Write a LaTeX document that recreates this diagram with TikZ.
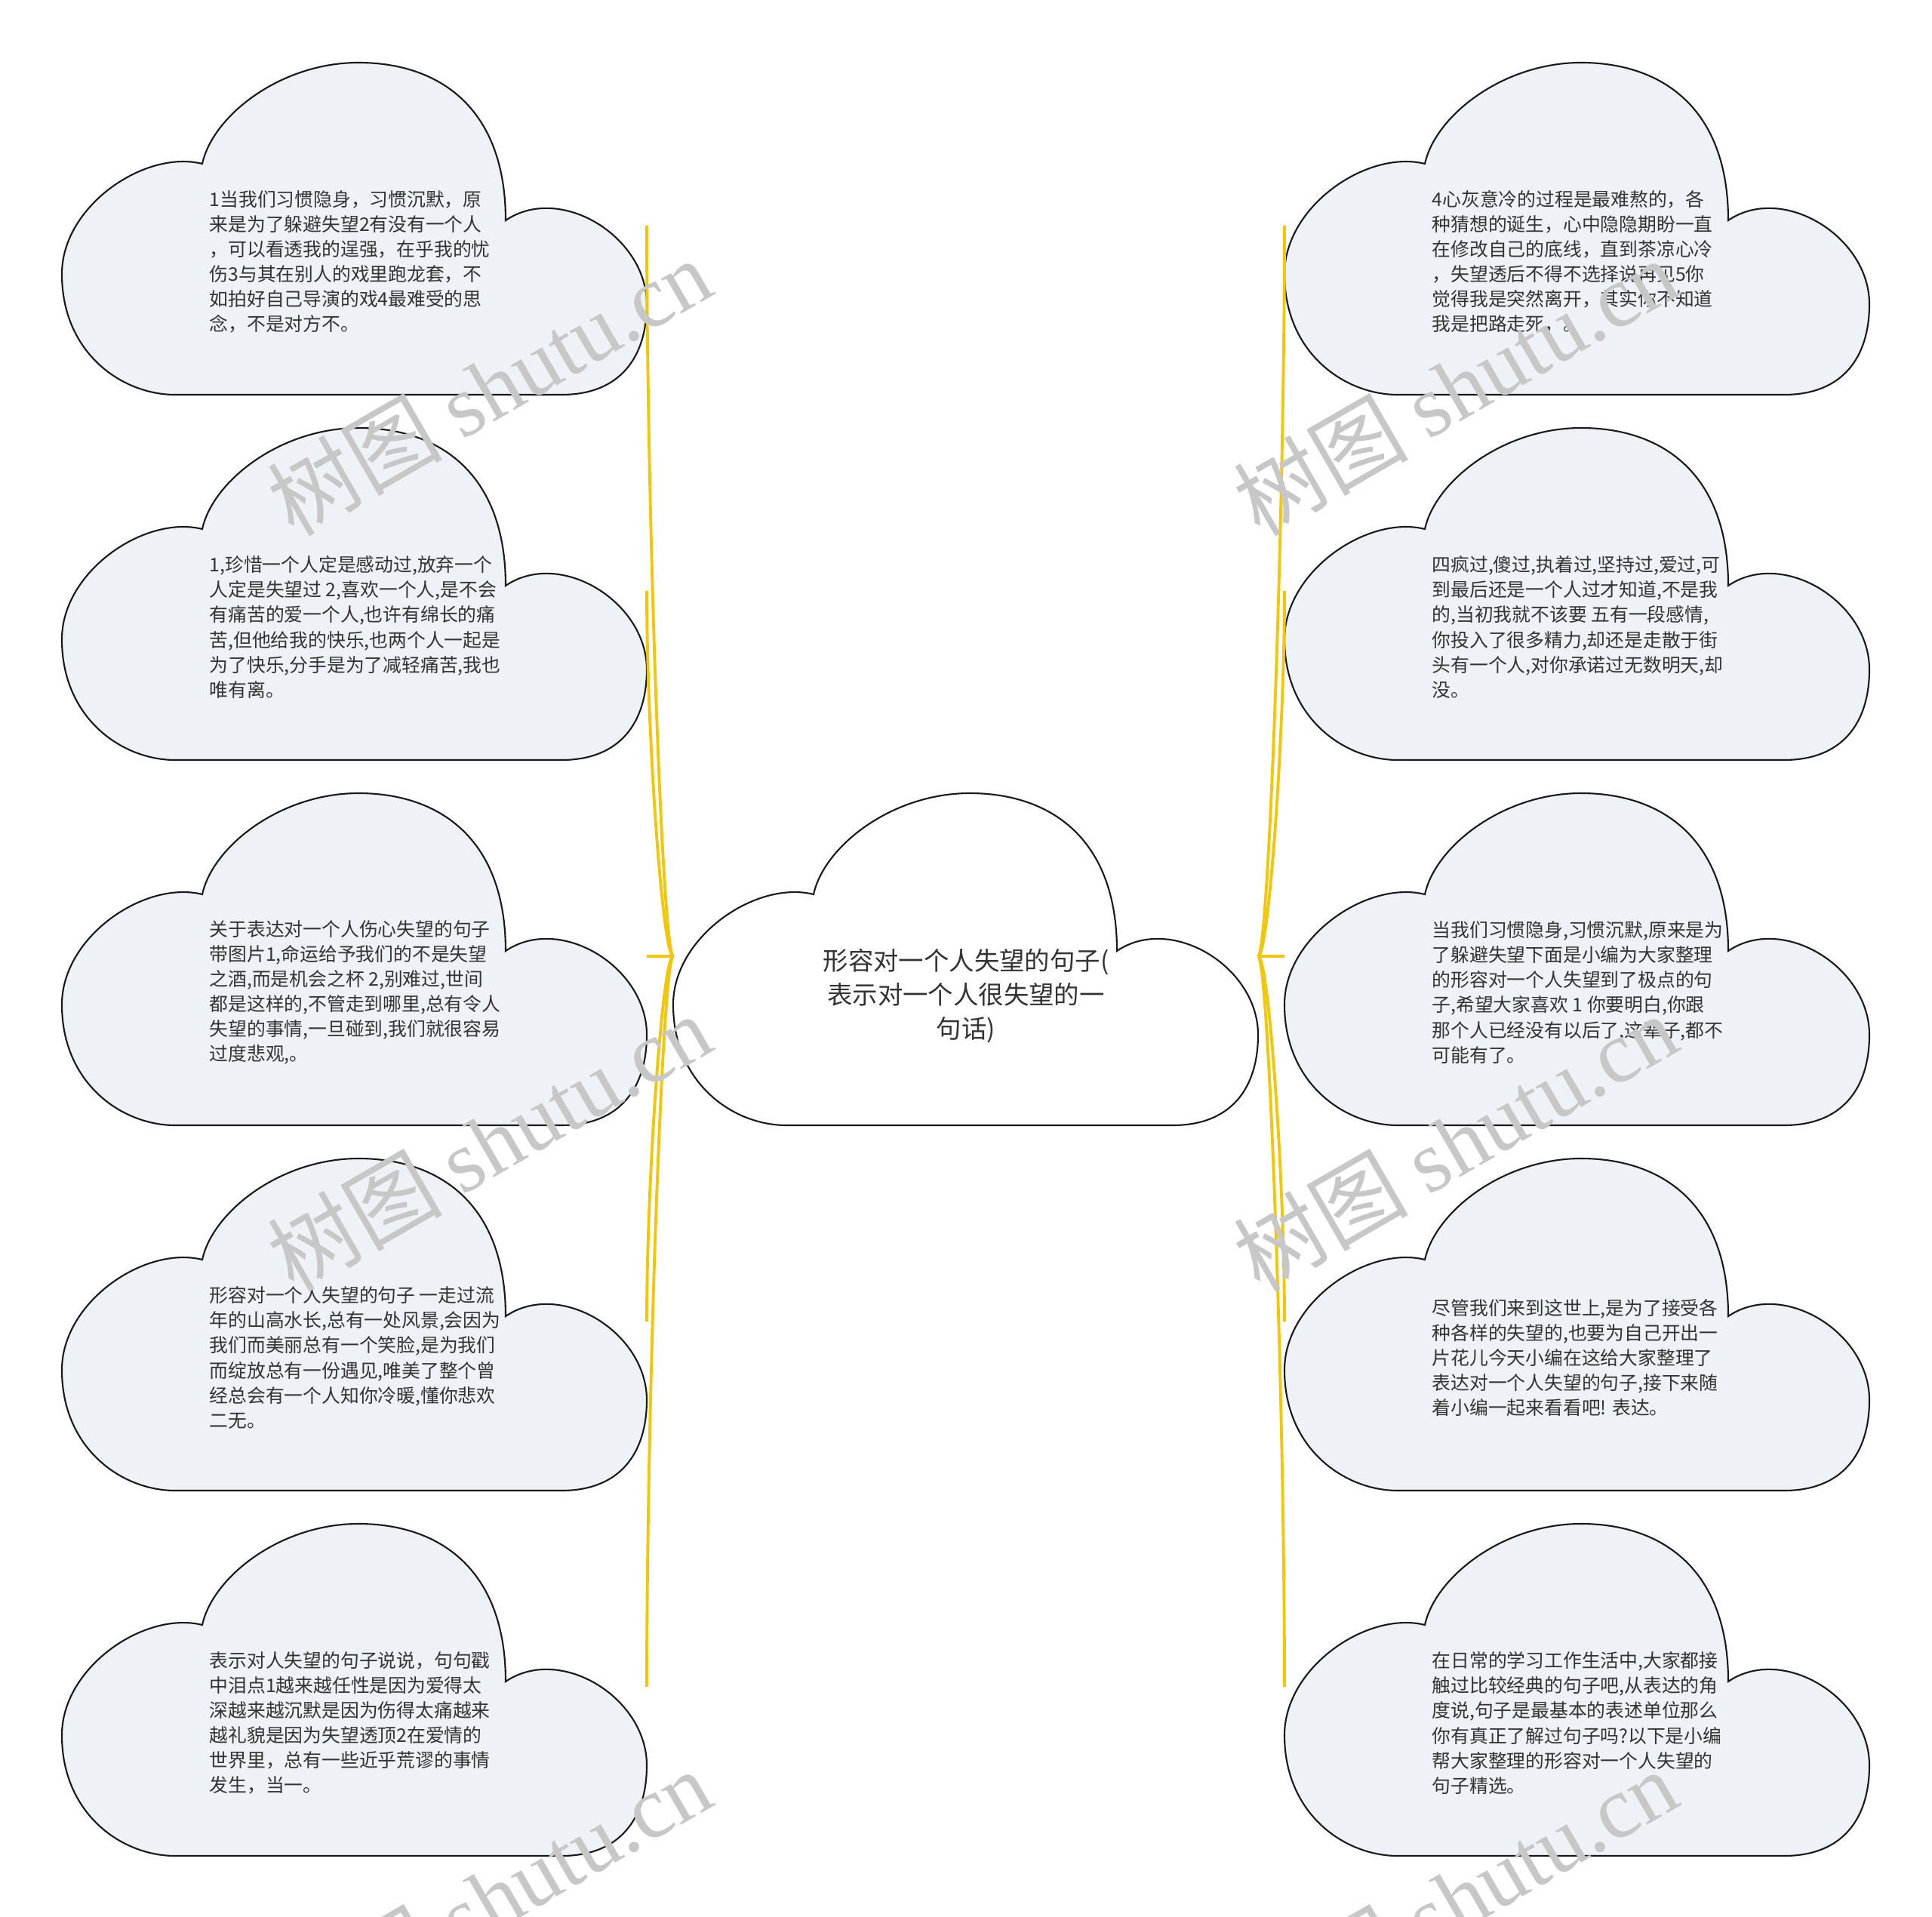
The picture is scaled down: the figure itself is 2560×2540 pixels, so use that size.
\documentclass[tikz,border=0pt]{standalone}
\usepackage{fontspec}
\setmainfont{Noto Sans CJK SC}
\newfontfamily\wmserif{Liberation Serif}
\usepackage{xcolor}
\usepackage{tikz}
\usetikzlibrary{positioning,calc}
\definecolor{leafgray}{RGB}{238,241,245}
\definecolor{branchgold}{RGB}{242,198,10}
\definecolor{inkgray}{RGB}{51,51,51}

\begin{document}
\begin{tikzpicture}[
    x=0.01cm, y=-0.01cm,
    cloudline/.style={draw=black!90, line width=0.6pt},
    bubble/.pic={
      \path[cloudline, fill=#1] (186,134)
        .. controls (110,115) and (0,190) .. (0,280)
        .. controls (0,385) and (80,440) .. (150,440)
        -- (662,440)
        .. controls (740,440) and (775,390) .. (775,320)
        .. controls (775,230) and (660,160) .. (588,209)
        .. controls (588,60) and (500,0) .. (393,0)
        .. controls (290,0) and (200,70) .. (186,134) -- cycle;
    },
    leaftext/.style={anchor=west, align=left, inner sep=0pt, text=inkgray,
      font=\fontsize{7.05}{9.4}\selectfont},
    roottext/.style={align=center, inner sep=0pt, text=inkgray,
      font=\fontsize{9.5}{12.8}\selectfont},
    branch/.style={draw=branchgold, line width=1.1pt},
    stamp/.style={rotate=30, inner sep=0pt, text=black!22,
      font=\fontsize{33}{33}\selectfont}
]
\useasboundingbox (0,0) rectangle (2560,2540);
\clip (0,0) rectangle (2560,2540);

% Clouds
\pic at (892,1051) {bubble=white};
\pic at (82,83) {bubble=leafgray};
\pic at (82,567) {bubble=leafgray};
\pic at (82,1051) {bubble=leafgray};
\pic at (82,1535) {bubble=leafgray};
\pic at (82,2019) {bubble=leafgray};
\pic at (1702,83) {bubble=leafgray};
\pic at (1702,567) {bubble=leafgray};
\pic at (1702,1051) {bubble=leafgray};
\pic at (1702,1535) {bubble=leafgray};
\pic at (1702,2019) {bubble=leafgray};

% Anchor points
\coordinate (rootw) at (892,1267);
\coordinate (roote) at (1667,1267);
\coordinate (l1a) at (857,299);
\coordinate (l2a) at (857,783);
\coordinate (l3a) at (857,1267);
\coordinate (l4a) at (857,1751);
\coordinate (l5a) at (857,2235);
\coordinate (r1a) at (1702,299);
\coordinate (r2a) at (1702,783);
\coordinate (r3a) at (1702,1267);
\coordinate (r4a) at (1702,1751);
\coordinate (r5a) at (1702,2235);

% Branches
\draw[branch] (rootw) .. controls +(-14,0) and +(0,380) .. (l1a);
\draw[branch] (rootw) .. controls +(-14,0) and +(0,190) .. (l2a);
\draw[branch] (rootw) -- (l3a);
\draw[branch] (rootw) .. controls +(-14,0) and +(0,-190) .. (l4a);
\draw[branch] (rootw) .. controls +(-14,0) and +(0,-380) .. (l5a);
\draw[branch] (roote) .. controls +(14,0) and +(0,380) .. (r1a);
\draw[branch] (roote) .. controls +(14,0) and +(0,190) .. (r2a);
\draw[branch] (roote) -- (r3a);
\draw[branch] (roote) .. controls +(14,0) and +(0,-190) .. (r4a);
\draw[branch] (roote) .. controls +(14,0) and +(0,-380) .. (r5a);

% Root
\node[roottext] (root) at (1280,1320) {形容对一个人失望的句子(\\表示对一个人很失望的一\\句话)};

% Left leaves
\node[leaftext] (l1) at (277,347) {1当我们习惯隐身，习惯沉默，原\\来是为了躲避失望2有没有一个人\\，可以看透我的逞强，在乎我的忧\\伤3与其在别人的戏里跑龙套，不\\如拍好自己导演的戏4最难受的思\\念，不是对方不。};
\node[leaftext] (l2) at (277,831) {1,珍惜一个人定是感动过,放弃一个\\人定是失望过 2,喜欢一个人,是不会\\有痛苦的爱一个人,也许有绵长的痛\\苦,但他给我的快乐,也两个人一起是\\为了快乐,分手是为了减轻痛苦,我也\\唯有离。};
\node[leaftext] (l3) at (277,1315) {关于表达对一个人伤心失望的句子\\带图片1,命运给予我们的不是失望\\之酒,而是机会之杯 2,别难过,世间\\都是这样的,不管走到哪里,总有令人\\失望的事情,一旦碰到,我们就很容易\\过度悲观,。};
\node[leaftext] (l4) at (277,1799) {形容对一个人失望的句子 一走过流\\年的山高水长,总有一处风景,会因为\\我们而美丽总有一个笑脸,是为我们\\而绽放总有一份遇见,唯美了整个曾\\经总会有一个人知你冷暖,懂你悲欢\\二无。};
\node[leaftext] (l5) at (277,2283) {表示对人失望的句子说说，句句戳\\中泪点1越来越任性是因为爱得太\\深越来越沉默是因为伤得太痛越来\\越礼貌是因为失望透顶2在爱情的\\世界里，总有一些近乎荒谬的事情\\发生，当一。};

% Right leaves
\node[leaftext] (r1) at (1897,347) {4心灰意冷的过程是最难熬的，各\\种猜想的诞生，心中隐隐期盼一直\\在修改自己的底线，直到茶凉心冷\\，失望透后不得不选择说再见5你\\觉得我是突然离开，其实你不知道\\我是把路走死，。};
\node[leaftext] (r2) at (1897,831) {四疯过,傻过,执着过,坚持过,爱过,可\\到最后还是一个人过才知道,不是我\\的,当初我就不该要 五有一段感情,\\你投入了很多精力,却还是走散于街\\头有一个人,对你承诺过无数明天,却\\没。};
\node[leaftext] (r3) at (1897,1315) {当我们习惯隐身,习惯沉默,原来是为\\了躲避失望下面是小编为大家整理\\的形容对一个人失望到了极点的句\\子,希望大家喜欢 1 你要明白,你跟\\那个人已经没有以后了,这辈子,都不\\可能有了。};
\node[leaftext] (r4) at (1897,1799) {尽管我们来到这世上,是为了接受各\\种各样的失望的,也要为自己开出一\\片花儿今天小编在这给大家整理了\\表达对一个人失望的句子,接下来随\\着小编一起来看看吧! 表达。};
\node[leaftext] (r5) at (1897,2283) {在日常的学习工作生活中,大家都接\\触过比较经典的句子吧,从表达的角\\度说,句子是最基本的表述单位那么\\你有真正了解过句子吗?以下是小编\\帮大家整理的形容对一个人失望的\\句子精选。};

% Watermarks
\node[stamp] (wm1) at (648,512) {树图 {\wmserif shutu.cn}};
\node[stamp] (wm2) at (648,1513) {树图 {\wmserif shutu.cn}};
\node[stamp] (wm3) at (648,2514) {树图 {\wmserif shutu.cn}};
\node[stamp] (wm4) at (1928,512) {树图 {\wmserif shutu.cn}};
\node[stamp] (wm5) at (1928,1513) {树图 {\wmserif shutu.cn}};
\node[stamp] (wm6) at (1928,2514) {树图 {\wmserif shutu.cn}};
\end{tikzpicture}
\end{document}
